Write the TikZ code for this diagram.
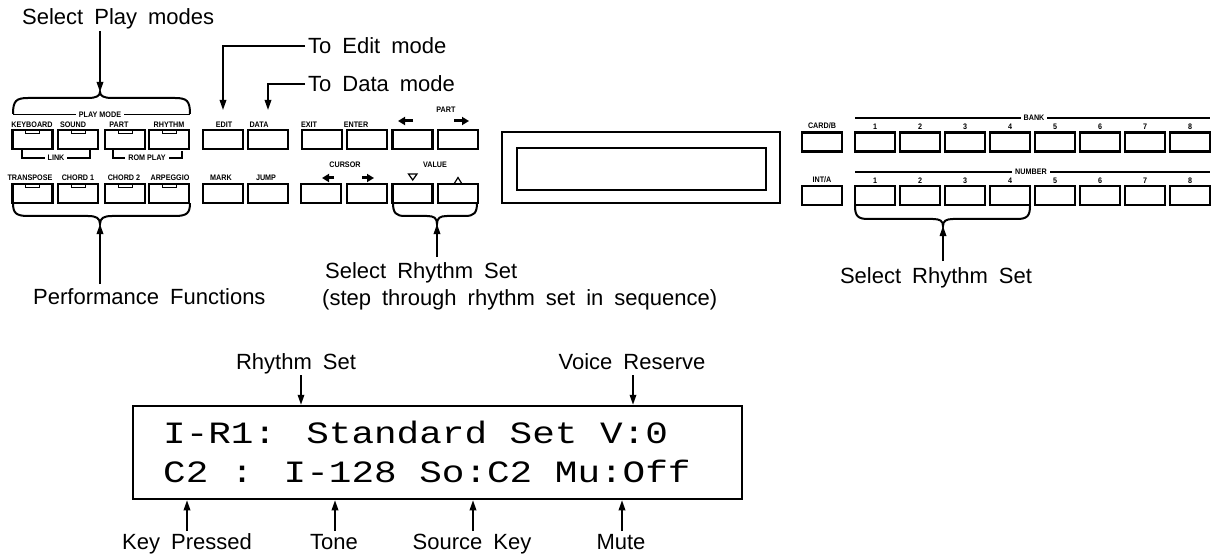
\documentclass[tikz,border=0pt]{standalone}
\usepackage{fontspec}
\setmainfont[WordSpace=1.8]{Liberation Sans}
\newfontfamily\panelfont[FakeStretch=0.9]{Liberation Sans}
\newfontfamily\lcdfont[FakeStretch=1.215]{Liberation Mono}
\usetikzlibrary{arrows.meta}
\begin{document}
\begin{tikzpicture}[x=1pt,y=-1pt,
  lbl/.style={font=\fontsize{22}{26}\selectfont, inner sep=0pt, anchor=base},
  plbl/.style={font={\panelfont\bfseries\fontsize{8}{9}\selectfont}, inner sep=0pt, anchor=base},
  btn/.style={draw, line width=2.4pt, minimum width=40pt, minimum height=19pt, inner sep=0pt},
  led/.style={draw, line width=1pt, minimum width=14pt, minimum height=4pt, inner sep=0pt, anchor=north},
  arr/.style={line width=1.7pt, -{Triangle[length=10pt,width=6.5pt]}},
  bracepath/.style={line width=2pt},
  thinline/.style={line width=1.4pt},
  gapped/.style={fill=white, inner xsep=3pt},
  lcdtext/.style={font={\lcdfont\fontsize{31}{36}\selectfont}, inner sep=0pt, anchor=base west},
  boxframe/.style={draw, line width=2.5pt, inner sep=0pt},
  tri/.style={line width=3pt, -{Triangle[length=7pt,width=8pt]}},
  opentri/.style={line width=1.2pt}
]
\useasboundingbox (0,0) rectangle (1215,556);

% ---------------- headline texts ----------------
\node[lbl, anchor=base west] (selPlay) at (22,25) {Select Play modes};
\node[lbl, anchor=base west] (toEdit) at (308,54) {To Edit mode};
\node[lbl, anchor=base west] (toData) at (308,92) {To Data mode};
\node[lbl, anchor=base west] (perf) at (33,304) {Performance Functions};
\node[lbl, anchor=base west] (selRS1) at (325,278) {Select Rhythm Set};
\node[lbl, anchor=base west] (stepTxt) at (322,305) {(step through rhythm set in sequence)};
\node[lbl] (selRS2) at (936,283) {Select Rhythm Set};

% ---------------- left button group ----------------
\foreach \n/\x in {kb/32.5, snd/78, prt/125, rhy/169}{
  \node[btn] (\n) at (\x,139.5) {};
  \node[led] (\n-led) at (\n.north) {};
}
\foreach \n/\x in {trn/32.5, ch1/78, ch2/125, arp/169}{
  \node[btn] (\n) at (\x,193.5) {};
  \node[led] (\n-led) at (\n.north) {};
}
\node[plbl] (kbL) at (32,128) {KEYBOARD};
\node[plbl] (sndL) at (73,128) {SOUND};
\node[plbl] (prtL) at (119,128) {PART};
\node[plbl] (rhyL) at (169,128) {RHYTHM};
\node[plbl] (trnL) at (30,181) {TRANSPOSE};
\node[plbl] (ch1L) at (78,181) {CHORD 1};
\node[plbl] (ch2L) at (124,181) {CHORD 2};
\node[plbl] (arpL) at (170,181) {ARPEGGIO};

% PLAY MODE brace and line
\coordinate (pmTip) at (100,92);
\coordinate (pmTail) at (100,31);
\draw[bracepath] (13,114) .. controls (13,101) and (16,98) .. (28,98) -- (88,98)
  .. controls (96,98) and (100,96) .. (pmTip) .. controls (100,96) and (104,98) .. (112,98)
  -- (175,98) .. controls (187,98) and (190,101) .. (190,114);
\draw[thinline] (13,114.5) -- (190,114.5);
\node[plbl, gapped] (pmL) at (100,117.5) {PLAY MODE};
\draw[arr] (pmTail) -- (pmTip);

% LINK / ROM PLAY brackets
\draw[thinline] (22,149) -- (22,158) -- (90,158) -- (90,149);
\node[plbl, gapped] (linkL) at (56,161) {LINK};
\draw[thinline] (113,149) -- (113,158) -- (182,158) -- (182,151);
\node[plbl, gapped] (romL) at (147,161) {ROM PLAY};

% Performance brace
\coordinate (pfTip) at (100,224);
\coordinate (pfTail) at (100,284);
\draw[bracepath] (13,203) .. controls (13,213) and (16,216) .. (28,216) -- (88,216)
  .. controls (96,216) and (100,218) .. (pfTip) .. controls (100,218) and (104,216) .. (112,216)
  -- (175,216) .. controls (187,216) and (190,213) .. (190,203);
\draw[arr] (pfTail) -- (pfTip);

% ---------------- middle button group ----------------
\foreach \n/\x in {edit/223, data/268, exit/322, enter/367, pl/412.5, pr/458}{
  \node[btn] (\n) at (\x,139.5) {};
}
\foreach \n/\x in {mark/223, jump/268, cl/321, cr/367, vd/412.5, vu/458}{
  \node[btn] (\n) at (\x,193.5) {};
}
\node[plbl] (editL) at (224,128) {EDIT};
\node[plbl] (dataL) at (259,128) {DATA};
\node[plbl] (exitL) at (309,128) {EXIT};
\node[plbl] (enterL) at (356,128) {ENTER};
\node[plbl] (partL) at (446,113) {PART};
\node[plbl] (markL) at (221,181) {MARK};
\node[plbl] (jumpL) at (266,181) {JUMP};
\node[plbl] (curL) at (345,168) {CURSOR};
\node[plbl] (valL) at (435,168) {VALUE};

\coordinate (plA) at (413,121); \coordinate (plB) at (398,121);
\draw[tri] (plA) -- (plB);
\coordinate (prA) at (454,121); \coordinate (prB) at (469,121);
\draw[tri] (prA) -- (prB);
\coordinate (clA) at (334,178); \coordinate (clB) at (322,178);
\draw[tri] (clA) -- (clB);
\coordinate (crA) at (362,178); \coordinate (crB) at (374,178);
\draw[tri] (crA) -- (crB);
\draw[opentri] (408.5,174) -- (417,174) -- (412.75,180) -- cycle;
\draw[opentri] (454,184) -- (462,184) -- (458,177.5) -- cycle;

% edit / data connectors
\coordinate (editTip) at (223,110);
\coordinate (dataTip) at (268,110);
\draw[arr] ([xshift=-3pt]toEdit.west) -| (editTip);
\draw[arr] ([xshift=-3pt]toData.west) -| (dataTip);

% VALUE brace
\coordinate (vTip) at (437,224);
\coordinate (vTail) at (437,257);
\draw[bracepath] (393,203) .. controls (393,213) and (396,216) .. (405,216) -- (427,216)
  .. controls (434,216) and (437,218) .. (vTip) .. controls (437,218) and (440,216) .. (447,216)
  -- (465,216) .. controls (474,216) and (477,213) .. (477,203);
\draw[arr] (vTail) -- (vTip);

% ---------------- display ----------------
\node[boxframe, minimum width=278pt, minimum height=71pt] (dispOuter) at (641,167.5) {};
\node[draw, line width=2pt, minimum width=249pt, minimum height=42pt, inner sep=0pt] (dispInner) at (641.5,169) {};

% ---------------- right button group ----------------
\node[btn] (cardb) at (822,142) {};
\node[btn] (inta) at (822,195.5) {};
\node[plbl] (cardbL) at (822,129) {CARD/B};
\node[plbl] (intaL) at (822,183) {INT/A};
\foreach \i in {1,...,8}{
  \node[btn] (bank\i) at ({875+45*(\i-1)},142) {};
  \node[plbl] (bankL\i) at ({875+45*(\i-1)},129.5) {\i};
  \node[btn] (num\i) at ({875+45*(\i-1)},195.5) {};
  \node[plbl] (numL\i) at ({875+45*(\i-1)},183.5) {\i};
}
\draw[thinline] (855,118) -- (1210,118);
\node[plbl, gapped] (bankT) at (1034,121) {BANK};
\draw[thinline] (855,172) -- (1210,172);
\node[plbl, gapped] (numT) at (1031,175) {NUMBER};

% right brace
\coordinate (rTip) at (943,226);
\coordinate (rTail) at (943,261);
\draw[bracepath] (855,206) .. controls (855,216) and (858,219) .. (868,219) -- (933,219)
  .. controls (940,219) and (943,221) .. (rTip) .. controls (943,221) and (946,219) .. (953,219)
  -- (1017,219) .. controls (1027,219) and (1030,216) .. (1030,206);
\draw[arr] (rTail) -- (rTip);

% ---------------- LCD readout ----------------
\node[boxframe, minimum width=609pt, minimum height=93pt] (lcd) at (437.5,452.5) {};
\node[lcdtext] (lcd1) at (163,443) {I-R1: Standard Set V:0};
\node[lcdtext] (lcd2) at (163,482) {C2 : I-128 So:C2 Mu:Off};

\node[lbl] (rsL) at (296,369) {Rhythm Set};
\node[lbl] (vrL) at (632,369) {Voice Reserve};
\node[lbl] (kpL) at (187,549) {Key Pressed};
\node[lbl] (toneL) at (334,549) {Tone};
\node[lbl] (skL) at (472,549) {Source Key};
\node[lbl] (muteL) at (621,549) {Mute};

\coordinate (rsT) at (301,375);
\coordinate (vrT) at (633,375);
\draw[arr] (rsT) -- (rsT |- lcd.north);
\draw[arr] (vrT) -- (vrT |- lcd.north);
\coordinate (kpT) at (187,531);
\coordinate (toneT) at (335,531);
\coordinate (skT) at (473,531);
\coordinate (muteT) at (622,531);
\draw[arr] (kpT) -- (kpT |- lcd.south);
\draw[arr] (toneT) -- (toneT |- lcd.south);
\draw[arr] (skT) -- (skT |- lcd.south);
\draw[arr] (muteT) -- (muteT |- lcd.south);
\end{tikzpicture}
\end{document}
